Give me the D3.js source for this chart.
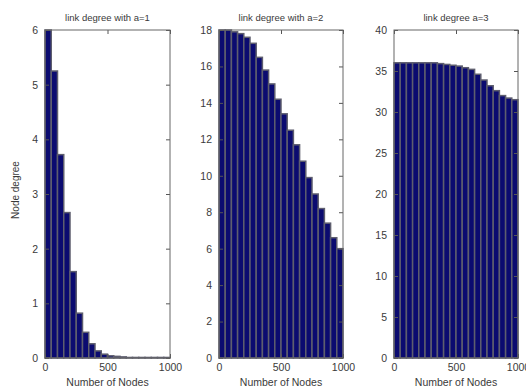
<!DOCTYPE html>
<html>
<head>
<meta charset="utf-8">
<script src="https://cdn.jsdelivr.net/npm/d3@7"></script>
<style>
  body { margin: 0; background: #fff; }
  svg text { font-family: "Liberation Sans", Arial, sans-serif; fill: #3a3a3a; }
  .tick line { stroke: #555; }
  .frame { fill: none; stroke: #666; stroke-width: 1; }
</style>
</head>
<body>
<svg id="chart" width="526" height="389"></svg>
<script>
const svg = d3.select("svg#chart");

// bins along "Number of Nodes"
const nodeBins = d3.range(20).map((i) => i);

const degreeA1 = [6.0, 5.25, 3.72, 2.66, 1.58, 0.82, 0.47, 0.26, 0.13, 0.07,
	0.04, 0.03, 0.02, 0.01, 0.01, 0.01, 0.01, 0.01, 0.01, 0.01];
const degreeA2 = [18.0, 18.0, 17.9, 17.8, 17.6, 17.27, 16.5, 15.8, 15.04, 14.2,
	13.4, 12.5, 11.7, 10.8, 9.9, 9.0, 8.2, 7.4, 6.6, 6.0];
const degreeA3 = [36.0, 36.0, 36.0, 36.0, 36.0, 36.0, 36.0, 35.9, 35.8, 35.7,
	35.6, 35.4, 35.2, 34.6, 33.9, 33.2, 32.6, 32.0, 31.7, 31.5];

const titles = ["link degree with a=1", "link degree with a=2", "link degree a=3"];
const yMax = [6, 18, 40];
const yStep = [1, 2, 5];
const xTicks = [0, 500, 1000];

const panels = [
	{ left: 45, right: 170, values: degreeA1 },
	{ left: 219, right: 343, values: degreeA2 },
	{ left: 394, right: 518, values: degreeA3 },
];
const plotTop = 30;
const plotBottom = 358;
const fmt = d3.format("d");

panels.forEach((p, k) => {
	const w = p.right - p.left;
	const h = plotBottom - plotTop;
	const g = svg.append("g").attr("transform", `translate(${p.left},${plotTop})`);

	const x = d3.scaleLinear([0, 1000], [0, w]);
	const band = d3.scaleBand(nodeBins, [0, w]).padding(0);
	const y = d3.scaleLinear([0, yMax[k]], [h, 0]);

	g.append("g")
		.selectAll("rect")
		.data(p.values)
		.join("rect")
		.attr("x", (d, i) => band(i))
		.attr("width", band.bandwidth())
		.attr("y", (d) => y(d))
		.attr("height", (d) => h - y(d))
		.attr("fill", "#0b0b70")
		.attr("stroke", "#5e5e6e")
		.attr("stroke-width", 1.5);

	const yTicks = d3.range(0, yMax[k] + 0.001, yStep[k]);

	// left axis with inward ticks
	g.append("g")
		.call(d3.axisLeft(y).tickValues(yTicks).tickFormat(fmt).tickSizeInner(-4).tickSizeOuter(0).tickPadding(7))
		.call((a) => a.select(".domain").remove())
		.selectAll("text")
		.style("font-size", "10.5px");
	g.append("g")
		.attr("transform", `translate(${w},0)`)
		.call(d3.axisRight(y).tickValues(yTicks).tickSizeInner(-4).tickSizeOuter(0).tickFormat(""))
		.call((a) => a.select(".domain").remove());

	g.append("g")
		.attr("transform", `translate(0,${h})`)
		.call(d3.axisBottom(x).tickValues(xTicks).tickFormat(fmt).tickSizeInner(-4).tickSizeOuter(0).tickPadding(6))
		.call((a) => a.select(".domain").remove())
		.selectAll("text")
		.style("font-size", "10.5px");
	g.append("g")
		.call(d3.axisTop(x).tickValues(xTicks).tickSizeInner(-4).tickSizeOuter(0).tickFormat(""))
		.call((a) => a.select(".domain").remove());

	g.append("rect").attr("class", "frame")
		.attr("x", 0).attr("y", 0).attr("width", w).attr("height", h);

	g.append("text")
		.attr("x", w / 2)
		.attr("y", -9)
		.attr("text-anchor", "middle")
		.style("font-size", "9.5px")
		.text(titles[k]);

	g.append("text")
		.attr("x", w / 2)
		.attr("y", h + 28)
		.attr("text-anchor", "middle")
		.style("font-size", "10.5px")
		.text("Number of Nodes");
});

svg.append("text")
	.attr("transform", "translate(19,190) rotate(-90)")
	.attr("text-anchor", "middle")
	.style("font-size", "10px")
	.text("Node degree");
</script>
</body>
</html>
